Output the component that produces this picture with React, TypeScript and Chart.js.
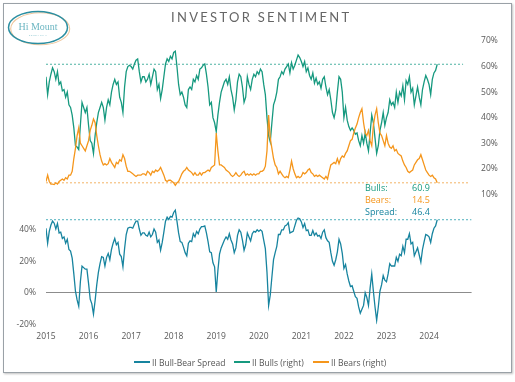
import React, { useEffect, useRef } from "react";
import { Chart, registerables } from "chart.js";
Chart.register(...registerables);

// ---- data (biweekly readings, 26 per year) ----
const years = [2015, 2016, 2017, 2018, 2019, 2020, 2021, 2022, 2023, 2024];

const bulls2015 = [56, 49, 54, 57, 59.5, 58, 55, 58, 53, 54, 50.5, 51, 48, 50, 45, 44, 41, 36, 29, 28.5, 27.5, 37, 46, 44, 42, 44];
const bulls2016 = [37, 31, 30, 26, 33, 38, 42, 44, 46, 44, 39, 44, 47, 45, 50, 53, 55, 53, 54, 48, 46, 42, 52, 58, 60, 60.5];
const bulls2017 = [60, 59, 61, 62.5, 63, 58, 54, 56, 56, 54, 55, 57, 53, 56, 59, 58, 51, 53, 47.5, 51, 56, 61, 63, 62, 64, 63];
const bulls2018 = [65.5, 66, 60, 53, 49, 50, 48, 45, 44, 51, 52, 51, 55, 54, 56.5, 55, 59, 59.5, 60.5, 61, 57, 52, 45, 46, 40, 38];
const bulls2019 = [34.5, 41, 46, 50, 52, 54, 55, 53, 56, 51, 48, 43, 47, 54, 57, 56, 52, 46, 48, 56, 53, 51, 55, 57, 56, 58];
const bulls2020 = [57, 59, 58, 53, 49, 40, 33, 30.5, 38, 45, 47, 50, 55, 56, 58, 57, 59, 60, 61, 57.5, 61.5, 59, 60.5, 62.5, 64.5, 63.5];
const bulls2021 = [62, 60, 62, 58, 59.5, 56.5, 55, 57.5, 53.5, 55.5, 53, 54, 51.5, 55, 56, 52, 49, 51, 47, 42, 40, 43, 50, 56, 55, 50];
const bulls2022 = [40, 44, 39, 36.5, 35, 36, 35, 33.5, 34, 31, 29, 33, 30, 34, 30, 27, 34, 41, 38, 32, 26, 29, 35, 38, 42, 37];
const bulls2023 = [40, 42, 47, 45, 46, 44, 50, 46, 50, 48.5, 52.5, 47, 54.5, 53, 56, 50, 51.5, 45, 48.5, 52, 48, 45, 51, 54, 56.5, 55];
const bulls2024 = [53, 49, 55, 57.5, 58.5, 60.9];

const bears2015 = [15, 17.5, 15, 14, 14, 13.8, 14.5, 14, 15, 15.5, 16, 15.5, 16.5, 16, 17.5, 17.5, 19, 24, 28, 33, 36, 30, 29, 28, 27, 29];
const bears2016 = [31, 35, 37, 39.5, 38, 33, 29, 25.5, 23, 21.5, 22, 21.5, 22, 24, 22.5, 21.5, 20.5, 22.5, 22, 23.5, 23, 25.5, 24, 21, 19, 19];
const bears2017 = [18.5, 18, 17.5, 17, 17.5, 17.5, 17.5, 18, 18, 17.5, 19, 18.5, 17.5, 19, 18.5, 19.5, 19, 19.5, 20.5, 19, 17.5, 15.5, 15, 15.5, 15.5, 15];
const bears2018 = [14.5, 13.5, 14.5, 15, 16.5, 18, 19, 19.5, 20.5, 19.5, 19, 18.5, 17.5, 18.5, 17.5, 17.5, 18.5, 17.5, 18.5, 18.5, 19, 19.5, 19, 20.5, 21, 21.5];
const bears2019 = [34, 27, 21.5, 21.5, 21, 20.5, 19.5, 19, 18.5, 17.5, 17, 17.5, 18.5, 17.5, 17, 17.5, 18.5, 19, 17.5, 18, 17.5, 18, 17.5, 18, 17.5, 18];
const bears2020 = [18, 19, 19, 19.5, 21, 27, 41, 32, 28, 24, 21.5, 20.5, 18, 19, 18, 17, 16.5, 17, 16.5, 19.5, 23, 20, 18, 16.5, 17, 16.5];
const bears2021 = [17, 18.5, 18, 18.5, 19.5, 20, 18.5, 18, 17, 17.5, 17, 17.5, 17, 16.5, 16, 17, 16, 19, 21.5, 22, 22.5, 22, 24, 22, 24, 25];
const bears2022 = [24.5, 26, 27, 29, 31, 31.5, 34, 36, 37.5, 40, 42, 43.5, 38, 34, 33, 35, 31, 29, 37, 41, 43.5, 38, 34, 33, 31, 29];
const bears2023 = [33, 30, 28.5, 28, 29, 27, 27.5, 26, 25.5, 25, 23, 21.5, 20.5, 19, 18.5, 19, 19.5, 21.5, 22.5, 23.5, 24, 25.5, 23.5, 21.5, 19.5, 18.5];
const bears2024 = [17.5, 17, 17.5, 16.5, 16, 14.5];

const bullsByYear = [bulls2015, bulls2016, bulls2017, bulls2018, bulls2019, bulls2020, bulls2021, bulls2022, bulls2023, bulls2024];
const bearsByYear = [bears2015, bears2016, bears2017, bears2018, bears2019, bears2020, bears2021, bears2022, bears2023, bears2024];

const xTickLabels = ["2015", "2016", "2017", "2018", "2019", "2020", "2021", "2022", "2023", "2024"];
const rightTicks = [10, 20, 30, 40, 50, 60, 70];
const leftTicks = [-20, 0, 20, 40];

const latestLabels = ["Bulls:", "Bears:", "Spread:"];
const latestValues = [60.9, 14.5, 46.4];
const seriesNames = ["II Bull-Bear Spread", "II Bulls (right)", "II Bears (right)"];

const C_BULLS = "#16997f";
const C_BEARS = "#f5961c";
const C_SPREAD = "#17849f";
const FONT = '"Open Sans", "Noto Sans", sans-serif';

export default function App() {
  const ref = useRef<HTMLCanvasElement | null>(null);

  useEffect(() => {
    const canvas = ref.current;
    if (!canvas) return;
    const bullPts: { x: number; y: number }[] = [];
    const bearPts: { x: number; y: number }[] = [];
    const spreadPts: { x: number; y: number }[] = [];
    years.forEach((yr, k) => {
      const b = bullsByYear[k];
      const r = bearsByYear[k];
      b.forEach((v, i) => {
        const x = yr + i / 26;
        bullPts.push({ x, y: v });
        bearPts.push({ x, y: r[i] });
        spreadPts.push({ x, y: Math.round((v - r[i]) * 10) / 10 });
      });
    });

    const tickFont = { family: FONT, size: 8.5 };
    const chart = new Chart(canvas, {
      type: "line",
      data: {
        datasets: [
          { label: seriesNames[0], data: spreadPts, yAxisID: "yL", borderColor: C_SPREAD, borderWidth: 1.3, pointRadius: 0, order: 2 },
          { label: seriesNames[1], data: bullPts, yAxisID: "yR", borderColor: C_BULLS, borderWidth: 1.3, pointRadius: 0, order: 1 },
          { label: seriesNames[2], data: bearPts, yAxisID: "yR", borderColor: C_BEARS, borderWidth: 1.3, pointRadius: 0, order: 0 },
          { label: "ref-bulls", data: [{ x: 2015, y: latestValues[0] }, { x: 2024.8, y: latestValues[0] }], yAxisID: "yR", borderColor: "#4db3a2", borderWidth: 1, borderDash: [2, 2], pointRadius: 0, order: 5 },
          { label: "ref-bears", data: [{ x: 2015, y: latestValues[1] }, { x: 2024.95, y: latestValues[1] }], yAxisID: "yR", borderColor: "#f2b466", borderWidth: 1, borderDash: [2, 2], pointRadius: 0, order: 5 },
          { label: "ref-spread", data: [{ x: 2015, y: latestValues[2] }, { x: 2025, y: latestValues[2] }], yAxisID: "yL", borderColor: "#4fb0bd", borderWidth: 1, borderDash: [2, 2], pointRadius: 0, order: 5 },
        ],
      },
      options: {
        animation: false,
        responsive: false,
        maintainAspectRatio: false,
        layout: { padding: { top: 41, left: 0, right: 0, bottom: 0 } },
        plugins: { legend: { display: false }, tooltip: { enabled: false }, title: { display: false } },
        elements: { line: { tension: 0 } },
        scales: {
          x: {
            type: "linear",
            min: 2015,
            max: 2025,
            grid: { display: false, drawTicks: false },
            border: { display: false },
            ticks: { color: "#595959", font: tickFont, padding: 7.5, maxRotation: 0, callback: (v: any) => String(v) },
            afterBuildTicks: (s: any) => { s.ticks = xTickLabels.map((t) => ({ value: Number(t) })); },
            afterFit: (s: any) => { s.height = 57.7; },
          },
          yL: {
            type: "linear",
            position: "left",
            min: -20,
            max: 159.87,
            grid: {
              drawTicks: false,
              lineWidth: 1,
              color: (ctx: any) => (ctx.tick && ctx.tick.value === 0 ? "#8c8c8c" : "rgba(0,0,0,0)"),
            },
            border: { display: false },
            ticks: { color: "#595959", font: tickFont, padding: 10, callback: (v: any) => v + "%" },
            afterBuildTicks: (s: any) => { s.ticks = leftTicks.map((t) => ({ value: t })); },
            afterFit: (s: any) => { s.width = 46; },
          },
          yR: {
            type: "linear",
            position: "right",
            min: -40.88,
            max: 70,
            grid: { display: false, drawTicks: false },
            border: { display: false },
            ticks: { color: "#595959", font: tickFont, padding: 9.5, callback: (v: any) => v + "%" },
            afterBuildTicks: (s: any) => { s.ticks = rightTicks.map((t) => ({ value: t })); },
            afterFit: (s: any) => { s.width = 43.4; },
          },
        },
      },
    });
    return () => chart.destroy();
  }, []);

  const labelColors = [C_BULLS, C_BEARS, C_SPREAD];
  const legendColors = [C_SPREAD, C_BULLS, C_BEARS];
  const legendSwatchX = [134, 234, 313];

  return (
    <div style={{ position: "absolute", left: 0, top: 0, width: 515, height: 382, background: "#fff", fontFamily: FONT }}>
      <div style={{ position: "absolute", left: 3, top: 3, width: 507, height: 368, border: "1px solid #9aa1a7", boxShadow: "1px 1px 2px rgba(0,0,0,0.25)" }} />
      <canvas ref={ref} width={515} height={382} style={{ position: "absolute", left: 0, top: 0, width: 515, height: 382 }} />
      <svg style={{ position: "absolute", left: 6, top: 9 }} width={66} height={38} viewBox="0 0 66 38">
        <ellipse cx={33} cy={19} rx={29.5} ry={16} fill="none" stroke="#efc79e" strokeWidth={1.1} transform="translate(1.2,0.8)" />
        <ellipse cx={32} cy={18.5} rx={29.5} ry={16} fill="none" stroke="#2a8ea1" strokeWidth={1.5} />
        <text x={32} y={21} textAnchor="middle" fontFamily='"Liberation Serif", "DejaVu Serif", serif' fontSize={10} fill="#6cb6c2">Hi Mount</text>
        <text x={32} y={26.5} textAnchor="middle" fontFamily={FONT} fontSize={2.5} letterSpacing={0.8} fill="#7bbdc8">RESEARCH</text>
      </svg>
      <div style={{ position: "absolute", left: 171, top: 10, fontFamily: '"Lato", "Open Sans", sans-serif', fontSize: 13, letterSpacing: 2.3, color: "#666", lineHeight: "14px", whiteSpace: "nowrap" }}>
        INVESTOR SENTIMENT
      </div>
      {latestLabels.map((lab, i) => (
        <React.Fragment key={lab}>
          <div style={{ position: "absolute", left: 365, top: 182 + i * 12, fontSize: 9, lineHeight: "12px", color: labelColors[i], whiteSpace: "nowrap" }}>{lab}</div>
          <div style={{ position: "absolute", left: 412, top: 182 + i * 12, fontSize: 9, lineHeight: "12px", color: labelColors[i], whiteSpace: "nowrap" }}>{latestValues[i].toFixed(1)}</div>
        </React.Fragment>
      ))}
      {seriesNames.map((n, i) => (
        <div key={n} style={{ position: "absolute", left: legendSwatchX[i], top: 355, height: 14, display: "flex", alignItems: "center", whiteSpace: "nowrap" }}>
          <span style={{ display: "inline-block", width: 16, height: 2, background: legendColors[i], marginRight: 2 }} />
          <span style={{ fontSize: 8.5, color: "#555" }}>{n}</span>
        </div>
      ))}
    </div>
  );
}
